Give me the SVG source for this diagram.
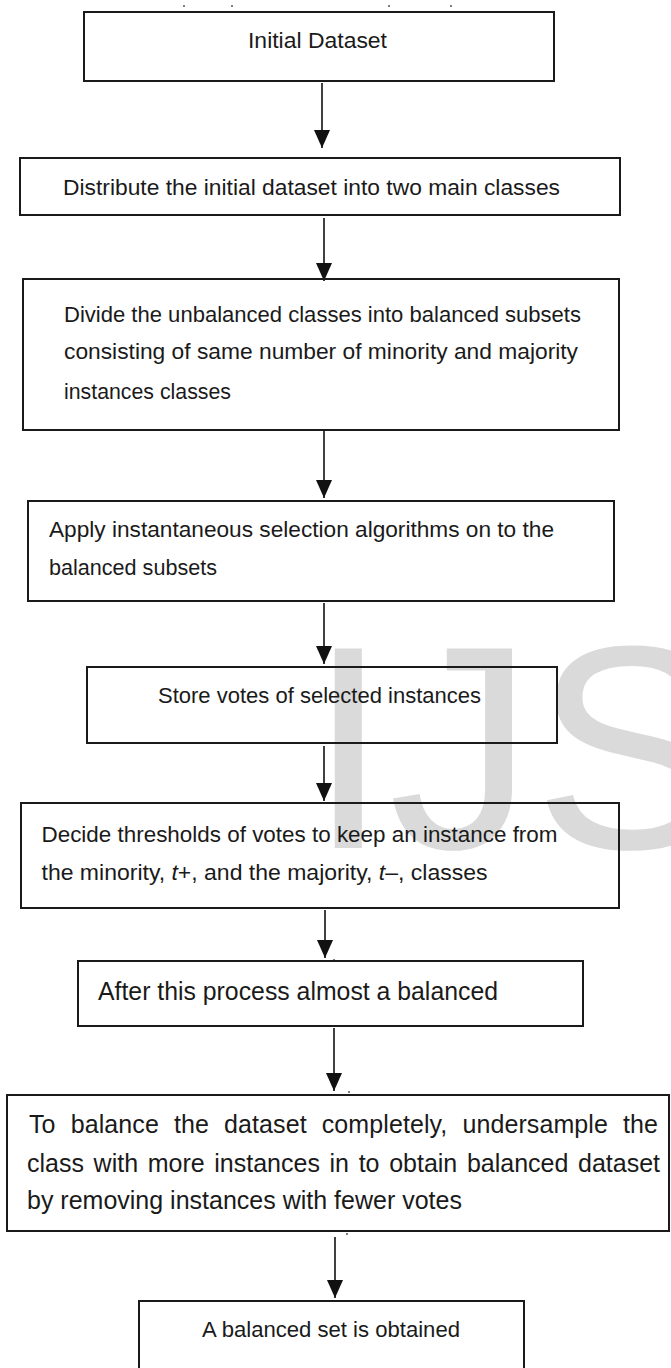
<svg xmlns="http://www.w3.org/2000/svg" width="671" height="1368" viewBox="0 0 671 1368">
<style>
.box{fill:none;stroke:#1a1a1a;stroke-width:2}
.t{font-family:"Liberation Sans",Arial,sans-serif;font-size:22.5px;fill:#1a1a1a}
.big{font-size:25px}
.edge{stroke:#111;stroke-width:1.6;fill:none}
.dot{fill:#555}
.wm{font-family:"Liberation Sans",Arial,sans-serif;font-size:290px;fill:#dadada}
</style>
<defs>
<marker id="ah" viewBox="0 0 18 16" refX="18" refY="8" markerWidth="18" markerHeight="16" markerUnits="userSpaceOnUse" orient="auto">
<path d="M0,0 L18,8 L0,16 Z" fill="#111"/>
</marker>
</defs>
<rect width="671" height="1368" fill="#fff"/>
<g id="watermark"><text class="wm" x="308" y="848">IJS</text></g>
<g id="specks">
<circle class="dot" cx="184" cy="6" r="1"/><circle class="dot" cx="232" cy="6" r="1"/>
<circle class="dot" cx="389" cy="6" r="1"/><circle class="dot" cx="451" cy="6" r="1"/>
<circle class="dot" cx="334" cy="960" r="1"/><circle class="dot" cx="349" cy="1092" r="1"/>
<circle class="dot" cx="347" cy="1234" r="1"/>
</g>
<g id="connectors">
<line class="edge" x1="322" y1="83" x2="322" y2="148" marker-end="url(#ah)"/>
<line class="edge" x1="324" y1="218" x2="324" y2="281" marker-end="url(#ah)"/>
<line class="edge" x1="324" y1="431" x2="324" y2="498" marker-end="url(#ah)"/>
<line class="edge" x1="324" y1="603" x2="324" y2="664" marker-end="url(#ah)"/>
<line class="edge" x1="324" y1="746" x2="324" y2="801" marker-end="url(#ah)"/>
<line class="edge" x1="325" y1="910" x2="325" y2="958" marker-end="url(#ah)"/>
<line class="edge" x1="334" y1="1028" x2="334" y2="1091" marker-end="url(#ah)"/>
<line class="edge" x1="335" y1="1237" x2="335" y2="1298" marker-end="url(#ah)"/>
</g>
<g id="n1"><rect class="box" x="84" y="12" width="470" height="69"/>
<text class="t" x="248" y="48" font-size="23" textLength="139" lengthAdjust="spacingAndGlyphs">Initial Dataset</text></g>
<g id="n2"><rect class="box" x="20" y="158" width="600" height="57"/>
<text class="t" x="63" y="195" textLength="497" lengthAdjust="spacingAndGlyphs">Distribute the initial dataset into two main classes</text></g>
<g id="n3"><rect class="box" x="23" y="279" width="596" height="151"/>
<text class="t" x="64" y="322" textLength="517" lengthAdjust="spacingAndGlyphs">Divide the unbalanced classes into balanced subsets</text>
<text class="t" x="64" y="359" textLength="514" lengthAdjust="spacingAndGlyphs">consisting of same number of minority and majority</text>
<text class="t" x="64" y="399" textLength="167" lengthAdjust="spacingAndGlyphs">instances classes</text></g>
<g id="n4"><rect class="box" x="28" y="501" width="586" height="100"/>
<text class="t" x="49" y="537" textLength="505" lengthAdjust="spacingAndGlyphs">Apply instantaneous selection algorithms on to the</text>
<text class="t" x="49" y="575" textLength="168" lengthAdjust="spacingAndGlyphs">balanced subsets</text></g>
<g id="n5"><rect class="box" x="87" y="667" width="470" height="76"/>
<text class="t" x="158" y="703" textLength="323" lengthAdjust="spacingAndGlyphs">Store votes of selected instances</text></g>
<g id="n6"><rect class="box" x="21" y="803" width="598" height="105"/>
<text class="t" x="41.5" y="842" textLength="516" lengthAdjust="spacingAndGlyphs">Decide thresholds of votes to keep an instance from</text>
<text class="t" x="41.5" y="880" textLength="446" lengthAdjust="spacingAndGlyphs">the minority, <tspan font-style="italic">t</tspan>+, and the majority, <tspan font-style="italic">t</tspan>–, classes</text></g>
<g id="n7"><rect class="box" x="78" y="961" width="505" height="65"/>
<text class="t big" x="98" y="1000" textLength="400" lengthAdjust="spacingAndGlyphs">After this process almost a balanced</text></g>
<g id="n8"><rect class="box" x="7" y="1095" width="662" height="136"/>
<text class="t big" x="29" y="1133" word-spacing="8" textLength="629" lengthAdjust="spacing">To balance the dataset completely, undersample the</text>
<text class="t big" x="27" y="1172" word-spacing="2.7" textLength="633" lengthAdjust="spacing">class with more instances in to obtain balanced dataset</text>
<text class="t big" x="27" y="1209">by removing instances with fewer votes</text></g>
<g id="n9"><rect class="box" x="139" y="1301" width="385" height="80"/>
<text class="t" x="202" y="1337" font-size="22" textLength="258" lengthAdjust="spacingAndGlyphs">A balanced set is obtained</text></g>
</svg>
